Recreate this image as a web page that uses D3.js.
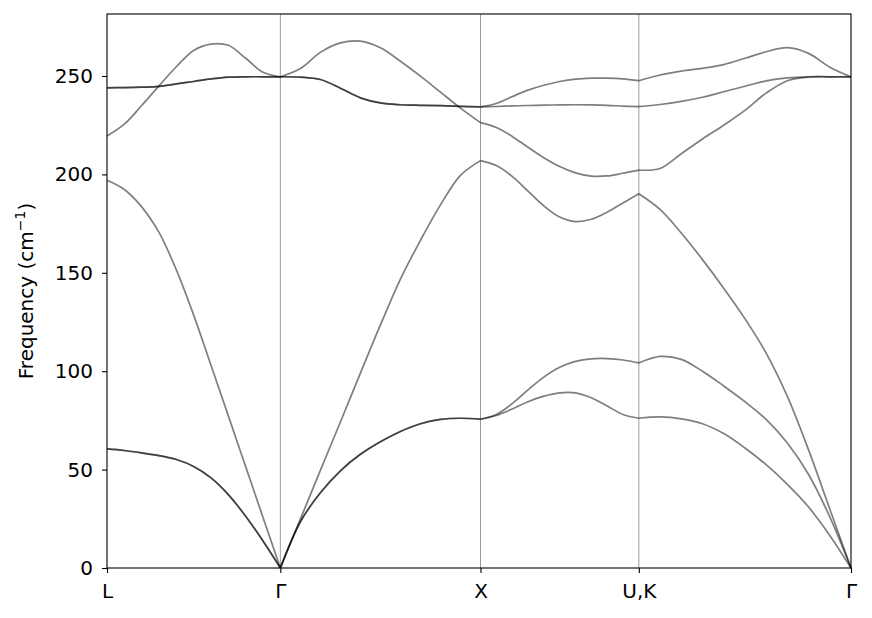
<!DOCTYPE html>
<html>
<head>
<meta charset="utf-8">
<script src="https://cdn.jsdelivr.net/npm/d3@7"></script>
<style>
  html, body { margin: 0; padding: 0; background: #fff; }
  svg { display: block; }
  text { font-family: "DejaVu Sans", sans-serif; }
</style>
</head>
<body>
<svg id="chart" width="872" height="618"></svg>
<script>
// High-symmetry path labels and cumulative path distances (2π/a units)
const kLabels = ["L", "Γ", "X", "U,K", "Γ"];
const kTicks = [0, 0.866, 1.866, 2.657, 3.717];
const stepsPerSegment = 10;

// Frequency tick labels (cm^-1)
const yTicks = [0, 50, 100, 150, 200, 250];
const yMax = 281.5;

// Phonon branches, 41 samples each (10 steps per segment: L-Γ, Γ-X, X-K, K-Γ)
const TA1 = [60.5, 59.7, 58.5, 57.1, 55.1, 51.6, 45.8, 37.3, 26.3, 13.7, 0,
             23.5, 38.2, 49.4, 57.8, 64.2, 69.4, 73.3, 75.5, 76.1, 75.6,
             77.5, 80.8, 84.5, 87.3, 89.0, 89.0, 86.5, 82.3, 78.0, 76.1,
             76.8, 75.8, 73.3, 68.3, 61.0, 52.5, 42.5, 31.0, 16.5, 0];
const TA2 = [60.5, 59.7, 58.5, 57.1, 55.1, 51.6, 45.8, 37.3, 26.3, 13.7, 0,
             23.5, 38.2, 49.4, 57.8, 64.2, 69.4, 73.3, 75.5, 76.1, 75.6,
             78.0, 83.5, 90.5, 97.0, 102.0, 105.0, 106.3, 106.4, 105.7, 104.2,
             107.5, 106.0, 100.0, 92.5, 84.5, 75.5, 63.5, 47.5, 26.0, 0];
const LA  = [197, 192.3, 183.5, 170.5, 151.5, 128.5, 103, 77.3, 51.5, 25.7, 0,
             24.8, 49.6, 74.2, 99, 123.5, 146.8, 166.5, 184.5, 199.5, 207,
             204.5, 199, 191.5, 184, 178.3, 176, 177.2, 180.8, 185.5, 190.2,
             182.2, 170.2, 156.7, 142.2, 126.7, 109.2, 87.2, 60, 30, 0];
const LO  = [219.5, 225.5, 235, 245, 254.7, 263, 266.2, 265.6, 259, 251.9, 249.6,
             253.8, 262, 266.8, 267.7, 264.3, 257.5, 249.9, 241.8, 233.7, 226.3,
             223.8, 219.3, 213.8, 208.5, 204, 200.8, 199.1, 199.2, 200.6, 202.2,
             203, 210.5, 218, 225, 232.5, 241.3, 247.6, 249.5, 249.6, 249.6];
const TO1 = [244, 244.1, 244.3, 244.7, 246, 247.2, 248.5, 249.4, 249.6, 249.6, 249.6,
             249.4, 248.2, 243.8, 238.9, 236.3, 235.4, 235.1, 234.9, 234.6, 234.3,
             234.5, 234.8, 235, 235.2, 235.3, 235.4, 235.3, 235.1, 234.7, 234.4,
             235.5, 237.1, 239.2, 242, 244.8, 247.5, 249, 249.6, 249.6, 249.6];
const TO2 = [244, 244.1, 244.3, 244.7, 246, 247.2, 248.5, 249.4, 249.6, 249.6, 249.6,
             249.4, 248.2, 243.8, 238.9, 236.3, 235.4, 235.1, 234.9, 234.6, 234.3,
             236, 239.5, 242.8, 245.3, 247.2, 248.4, 248.9, 248.9, 248.5, 247.6,
             250.5, 252.5, 253.9, 255.8, 259, 262.3, 264.4, 261.5, 254.5, 249.6];
const bands = [TA1, TA2, LA, LO, TO1, TO2];

const fontSize = 20;
const svg = d3.select("#chart");
const pLeft = 107, pRight = 851, pTop = 14, pBottom = 568;

const x = d3.scaleLinear().domain([kTicks[0], kTicks[kTicks.length - 1]]).range([pLeft, pRight]);
const y = d3.scaleLinear().domain([0, yMax]).range([pBottom, pTop]);

// vertical high-symmetry lines
svg.append("g").selectAll("line")
  .data(kTicks.slice(1, -1))
  .join("line")
  .attr("x1", d => x(d)).attr("x2", d => x(d))
  .attr("y1", pTop).attr("y2", pBottom)
  .attr("stroke", "#000").attr("stroke-opacity", 0.5).attr("stroke-width", 0.8);

// bands, drawn segment by segment so kinks at high-symmetry points stay sharp
const line = d3.line()
  .x(d => x(d[0])).y(d => y(d[1]))
  .curve(d3.curveCatmullRom.alpha(0.5));

function segmentsOf(band) {
  const segs = [];
  for (let s = 0; s < kTicks.length - 1; s++) {
    const pts = [];
    for (let i = 0; i <= stepsPerSegment; i++) {
      const k = kTicks[s] + (kTicks[s + 1] - kTicks[s]) * i / stepsPerSegment;
      pts.push([k, band[s * stepsPerSegment + i]]);
    }
    segs.push(pts);
  }
  return segs;
}

const bandG = svg.append("g");
bands.forEach(band => {
  const g = bandG.append("g").attr("opacity", 0.5);
  g.selectAll("path")
    .data(segmentsOf(band))
    .join("path")
    .attr("d", line)
    .attr("fill", "none")
    .attr("stroke", "#000")
    .attr("stroke-width", 1.7)
    .attr("stroke-linejoin", "round");
});

// axes
const xAxis = d3.axisBottom(x).tickValues(kTicks).tickFormat((d, i) => kLabels[i])
  .tickSize(5).tickPadding(11);
const yAxis = d3.axisLeft(y).tickValues(yTicks).tickSize(5).tickPadding(9);

const gx = svg.append("g").attr("transform", `translate(0,${pBottom})`).call(xAxis);
const gy = svg.append("g").attr("transform", `translate(${pLeft},0)`).call(yAxis);
[gx, gy].forEach(g => {
  g.select(".domain").remove();
  g.selectAll("line").attr("stroke", "#000").attr("stroke-width", 1.1);
  g.selectAll("text").attr("font-size", fontSize).attr("fill", "#000")
    .attr("font-family", "DejaVu Sans, sans-serif");
});

// frame
svg.append("rect")
  .attr("x", pLeft).attr("y", pTop)
  .attr("width", pRight - pLeft).attr("height", pBottom - pTop)
  .attr("fill", "none").attr("stroke", "#000").attr("stroke-width", 1.1);

// y label
const yl = svg.append("text")
  .attr("transform", `translate(32.5,${(pTop + pBottom) / 2}) rotate(-90)`)
  .attr("text-anchor", "middle")
  .attr("font-size", fontSize)
  .attr("fill", "#000");
yl.append("tspan").text("Frequency (cm");
yl.append("tspan").attr("font-size", fontSize * 0.7).attr("dy", -8).text("−1");
yl.append("tspan").attr("dy", 8).text(")");
</script>
</body>
</html>
